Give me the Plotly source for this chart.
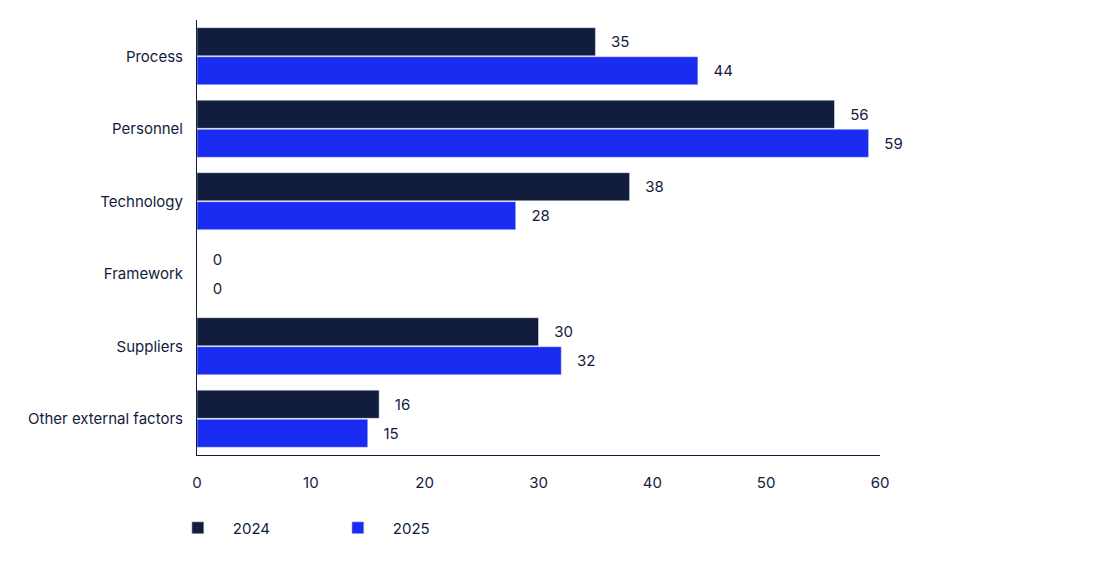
import plotly.graph_objects as go

# ---------------------------
# Data
# ---------------------------
categories = ["Process", "Personnel", "Technology", "Framework", "Suppliers", "Other external factors"]
values_2024 = [35, 56, 38, 0, 30, 16]
values_2025 = [44, 59, 28, 0, 32, 15]

navy = "#121c3d"
blue = "#1a2cf2"
pad = "&nbsp;" * 3

fig = go.Figure()
fig.add_trace(go.Bar(
    y=categories, x=values_2024, name="2024", orientation="h",
    marker_color=navy, texttemplate=pad + "%{x}", textposition="outside",
    textfont=dict(size=15, color=navy), cliponaxis=False
))
fig.add_trace(go.Bar(
    y=categories, x=values_2025, name="2025", orientation="h",
    marker_color=blue, texttemplate=pad + "%{x}", textposition="outside",
    textfont=dict(size=15, color=navy), cliponaxis=False
))

fig.update_layout(
    width=1098, height=566,
    margin=dict(l=189, r=226, t=12, b=119),
    barmode="group", bargap=0.2, bargroupgap=0.03,
    plot_bgcolor="white", paper_bgcolor="white",
    font=dict(family="Inter", size=15, color=navy),
    legend=dict(orientation="h", x=-0.05, xanchor="left", y=-0.13, yanchor="top",
                font=dict(size=15), itemwidth=60, entrywidth=85),
    xaxis=dict(range=[0, 60], dtick=10, showgrid=False, showline=True,
               linecolor=navy, linewidth=1, ticks="", zeroline=False,
               ticklen=0, tickfont=dict(size=15), automargin=False),
    yaxis=dict(autorange="reversed", showgrid=False, showline=True,
               linecolor=navy, linewidth=1, ticks="", ticklen=0,
               tickfont=dict(size=15), automargin=False),
)
fig.update_xaxes(ticklabelstandoff=14)
fig.update_yaxes(ticklabelstandoff=10)

fig.write_html("out.html")
